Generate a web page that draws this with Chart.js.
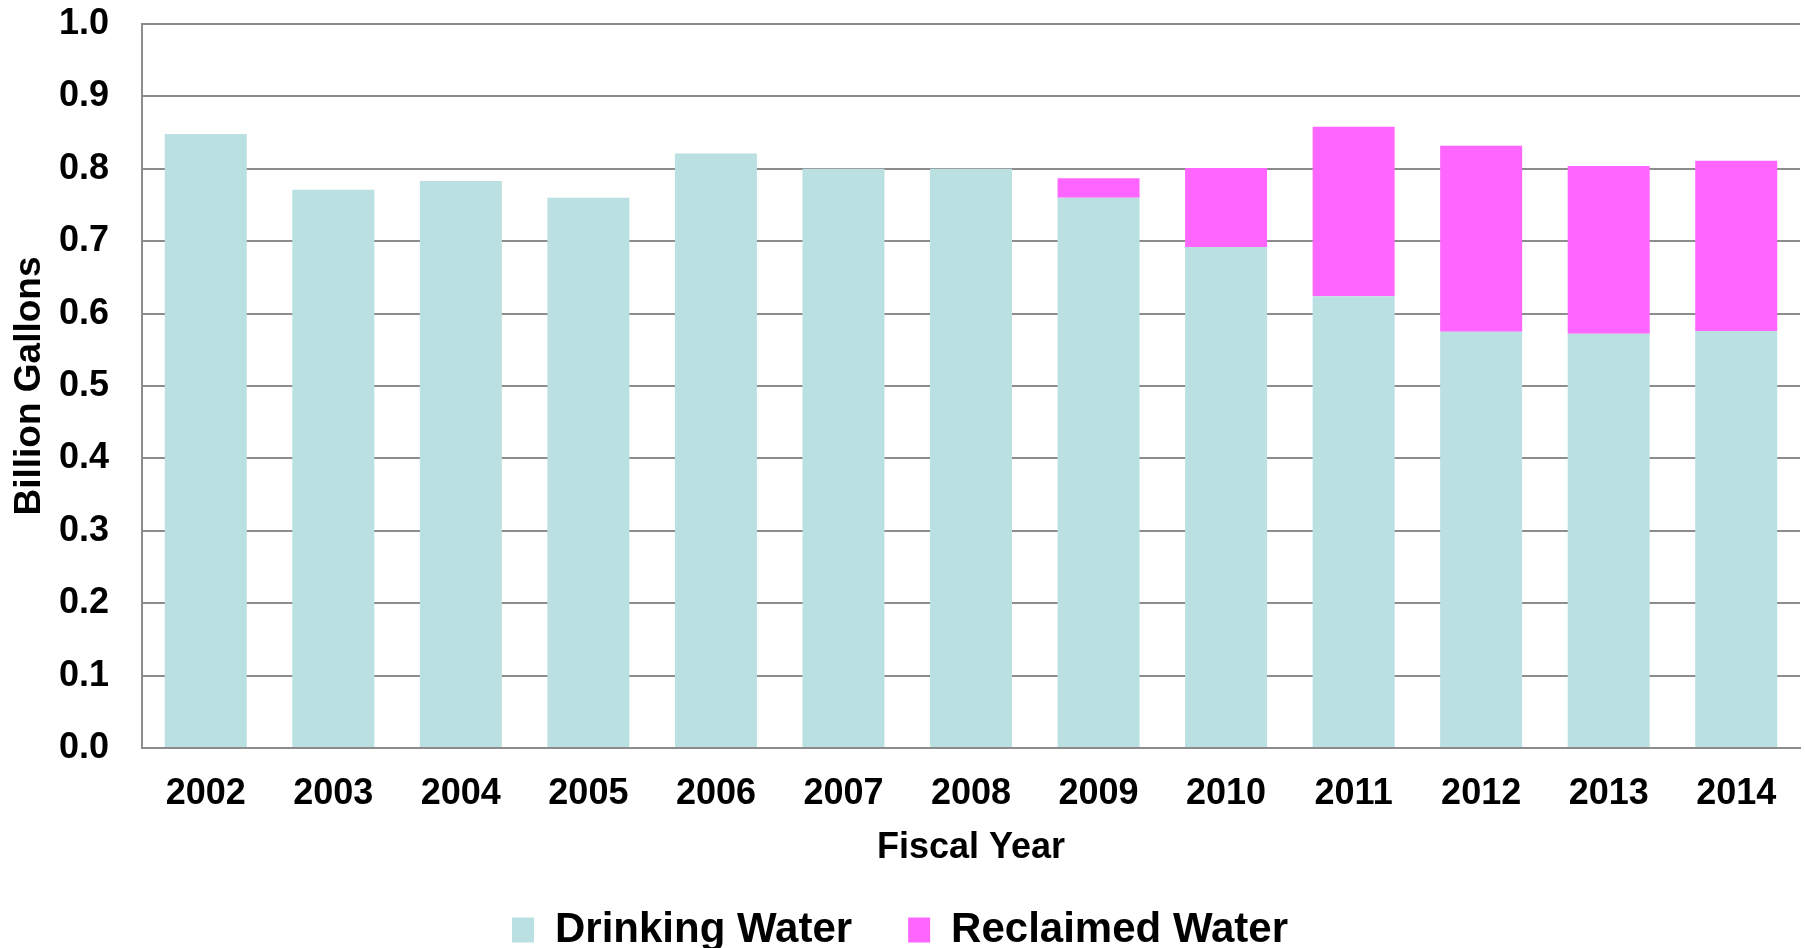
<!DOCTYPE html>
<html>
<head>
<meta charset="utf-8">
<title>Water Use by Fiscal Year</title>
<script src="https://cdn.jsdelivr.net/npm/chart.js@4.4.1/dist/chart.umd.min.js"></script>
<style>
  html, body { margin: 0; padding: 0; background: #fff; }
  #wrap { width: 1805px; height: 948px; }
</style>
</head>
<body>
<div id="wrap"><canvas id="waterChart" width="1805" height="948"></canvas></div>
<script>
const fiscalYears = ['2002', '2003', '2004', '2005', '2006', '2007', '2008',
                     '2009', '2010', '2011', '2012', '2013', '2014'];

// billion gallons per year
const drinkingWater = [0.848, 0.771, 0.783, 0.760, 0.821, 0.800, 0.800,
                       0.760, 0.692, 0.624, 0.575, 0.572, 0.576];
const reclaimedWater = [0, 0, 0, 0, 0, 0, 0,
                        0.027, 0.109, 0.234, 0.257, 0.232, 0.235];

const yTicks = [0.0, 0.1, 0.2, 0.3, 0.4, 0.5, 0.6, 0.7, 0.8, 0.9, 1.0];

const FONT = "'Liberation Sans', Arial, sans-serif";
const GRID = '#8c8c8c';

let chart = null;

function renderWaterChart() {
  const canvas = document.getElementById('waterChart');
  if (chart) chart.destroy();

  chart = new Chart(canvas, {
    type: 'bar',
    data: {
      labels: fiscalYears,
      datasets: [{
        label: 'Drinking Water',
        data: drinkingWater,
        backgroundColor: '#bae0e2',
        borderWidth: 0,
        barPercentage: 0.643,
        categoryPercentage: 1
      }, {
        label: 'Reclaimed Water',
        data: reclaimedWater,
        backgroundColor: '#ff66ff',
        borderWidth: 0,
        barPercentage: 0.643,
        categoryPercentage: 1
      }]
    },
    options: {
      responsive: false,
      animation: false,
      layout: {
        // legend sits flush with the bottom edge
        padding: { top: 24, right: 5, bottom: -13, left: 0 }
      },
      plugins: {
        tooltip: { enabled: false },
        legend: {
          position: 'bottom',
          labels: {
            color: '#000',
            font: { family: FONT, size: 42, weight: 'bold' },
            boxWidth: 22,
            boxHeight: 25,
            padding: 56
          }
        }
      },
      scales: {
        x: {
          stacked: true,
          afterFit: (scale) => { scale.height = 105; },
          grid: { display: false, drawTicks: false },
          border: { display: true, color: GRID, width: 2 },
          ticks: {
            color: '#000',
            padding: 24,
            maxRotation: 0,
            font: { family: FONT, size: 36, weight: 'bold' }
          },
          title: {
            display: true,
            text: 'Fiscal Year',
            color: '#000',
            font: { family: FONT, size: 36, weight: 'bold', lineHeight: 1 },
            padding: { top: 0, bottom: -13 }
          }
        },
        y: {
          stacked: true,
          min: 0,
          max: 1,
          afterFit: (scale) => {
            scale.width = 142;
            scale.paddingTop = 0;
            scale.paddingBottom = 0;
          },
          afterBuildTicks: (scale) => {
            scale.ticks = yTicks.map(v => ({ value: v }));
          },
          grid: { color: GRID, lineWidth: 2, drawTicks: false },
          border: { display: true, color: GRID, width: 2 },
          ticks: {
            color: '#000',
            padding: 33,
            font: { family: FONT, size: 36, weight: 'bold' },
            callback: (v) => Number(v).toFixed(1)
          },
          title: {
            display: true,
            text: 'Billion Gallons',
            color: '#000',
            font: { family: FONT, size: 37, weight: 'bold', lineHeight: 1 },
            padding: { top: 11, bottom: 0 }
          }
        }
      }
    }
  });
}

renderWaterChart();
</script>
</body>
</html>
